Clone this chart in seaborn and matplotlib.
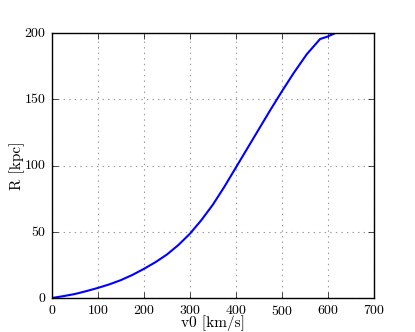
import matplotlib
matplotlib.use("Agg")
import matplotlib.pyplot as plt
import seaborn as sns
import pandas as pd

v0 = [0, 25, 50, 75, 100, 125, 150, 175, 200, 225, 250, 275, 300, 325, 350,
      375, 400, 425, 450, 475, 500, 525, 554, 583, 598, 620]
R = [0, 1.4, 3.0, 5.2, 7.6, 10.3, 13.5, 17.4, 22.0, 27.0, 32.8, 40.0, 48.5, 58.8, 70.5,
     84.0, 98.5, 113.0, 127.5, 142.0, 156.0, 169.5, 184.0, 195.5, 197.2, 200.6]
x_ticks = [0, 100, 200, 300, 400, 500, 600, 700]
y_ticks = [0, 50, 100, 150, 200]

df = pd.DataFrame({"v0": v0, "R": R})

plt.style.use("classic")
plt.rcParams["font.family"] = ["cmr10", "DejaVu Serif"]
plt.rcParams["mathtext.fontset"] = "cm"
plt.rcParams["axes.formatter.use_mathtext"] = True

fig = plt.figure(figsize=(4.15, 3.32), dpi=100, facecolor="white")
ax = fig.add_axes([0.125, 0.1024, 0.776, 0.798])
sns.lineplot(data=df, x="v0", y="R", ax=ax, color="#0000ff", linewidth=1.5, sort=False)
ax.set_xlim(0, 700)
ax.set_ylim(0, 200)
ax.set_xticks(x_ticks)
ax.set_yticks(y_ticks)
ax.tick_params(labelsize=10, direction="in", top=True, right=True, length=4)
ax.grid(True, linestyle=":", color="#999999", linewidth=0.8)
ax.set_axisbelow(True)
ax.set_xlabel("v0 [km/s]", fontsize=11, labelpad=-1.5)
ax.set_ylabel("R [kpc]", fontsize=11, labelpad=-1)
for s in ax.spines.values():
    s.set_linewidth(1.0)
fig.savefig("out.png", dpi=100, facecolor="white")
